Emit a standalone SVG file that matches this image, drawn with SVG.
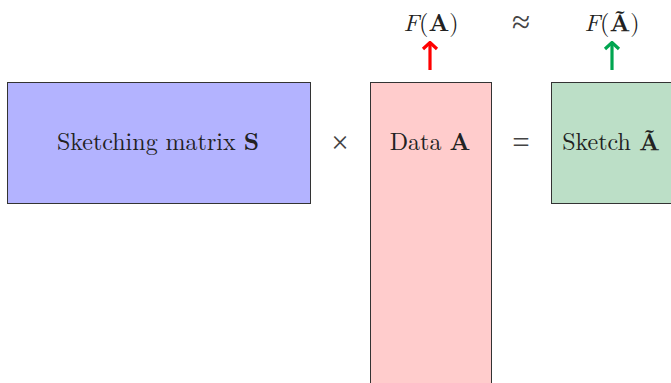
<svg xmlns="http://www.w3.org/2000/svg" width="671" height="383" viewBox="0 0 671 383">
<defs>
<style>
.t{font-family:"Latin Modern Roman","Liberation Serif","DejaVu Serif",serif;font-size:24px;fill:#222;text-anchor:middle}
.s{font-family:"Liberation Serif","DejaVu Serif",serif;font-size:31px;fill:#444;text-anchor:middle}
.b{font-weight:bold}
.i{font-style:italic}
.box{stroke:#333;stroke-width:1}
</style>
<marker id="ar-r" viewBox="0 0 18 10" refX="9" refY="1.5" markerWidth="18" markerHeight="10" markerUnits="userSpaceOnUse" orient="0">
<path d="M2,8.5 L9,2 L16,8.5" fill="none" stroke="#ff0000" stroke-width="3.2"/>
</marker>
<marker id="ar-g" viewBox="0 0 18 10" refX="9" refY="1.5" markerWidth="18" markerHeight="10" markerUnits="userSpaceOnUse" orient="0">
<path d="M2,8.5 L9,2 L16,8.5" fill="none" stroke="#00a550" stroke-width="3.2"/>
</marker>
</defs>
<rect width="671" height="383" fill="#fff"/>
<g id="sketching-matrix">
<rect class="box" x="7.5" y="82.5" width="303" height="121" fill="#b3b3ff"/>
<text class="t" x="158" y="150">Sketching matrix <tspan class="b">S</tspan></text>
</g>
<g id="times"><text class="s" x="340" y="153">×</text></g>
<g id="data">
<rect class="box" x="370.5" y="82.5" width="121" height="310" fill="#ffcccc"/>
<text class="t" x="430" y="150">Data <tspan class="b">A</tspan></text>
</g>
<g id="equals"><text class="s" x="521" y="153">=</text></g>
<g id="sketch">
<rect class="box" x="551.5" y="82.5" width="130" height="121" fill="#bcdfc7"/>
<text class="t" x="611" y="150">Sketch <tspan class="b">Ã</tspan></text>
</g>
<g id="fa"><text class="t" x="431" y="31"><tspan class="i">F</tspan>(<tspan class="b">A</tspan>)</text></g>
<g id="approx"><text class="s" x="521" y="33" style="font-size:33px">≈</text></g>
<g id="fat"><text class="t" x="612" y="31"><tspan class="i">F</tspan>(<tspan class="b">Ã</tspan>)</text></g>
<g id="connectors">
<line x1="430" y1="70" x2="430" y2="42" stroke="#ff0000" stroke-width="3.2" marker-end="url(#ar-r)"/>
<line x1="612" y1="70" x2="612" y2="42" stroke="#00a550" stroke-width="3.2" marker-end="url(#ar-g)"/>
</g>
</svg>
